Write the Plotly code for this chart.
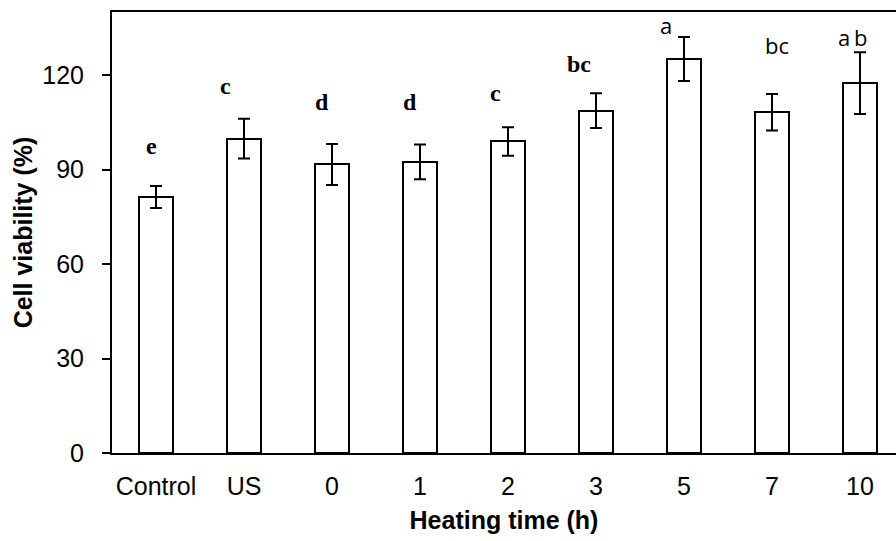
import plotly.graph_objects as go

categories = ["Control", "US", "0", "1", "2", "3", "5", "7", "10"]
viability = [81.3, 99.8, 91.6, 92.4, 98.9, 108.7, 125.1, 108.2, 117.4]
errors = [3.5, 6.3, 6.5, 5.5, 4.5, 5.5, 7.0, 5.8, 9.8]
letters = ["e", "c", "d", "d", "c", "bc", "a", "bc", "a\u2009b"]
letter_y = [97.6, 116.5, 111.5, 111.5, 114.3, 123.4, 135.8, 129.5, 132.0]
letter_dx = [-0.05, -0.21, -0.11, -0.11, -0.14, -0.19, -0.2, 0.06, -0.09]
letter_serif = [True, True, True, True, True, True, False, False, False]
y_ticks = [0, 30, 60, 90, 120]

fig = go.Figure()
fig.add_trace(go.Bar(
    x=list(range(len(categories))),
    y=viability,
    width=0.386,
    marker=dict(color="white", line=dict(color="black", width=2)),
    error_y=dict(type="data", array=errors, visible=True, color="black",
                 thickness=2, width=6),
    showlegend=False,
))

for i, (t, ly, dx, serif) in enumerate(zip(letters, letter_y, letter_dx, letter_serif)):
    if serif:
        font = dict(family="Liberation Serif", size=24, color="black", weight="bold")
    else:
        font = dict(family="Open Sans", size=22, color="black")
    fig.add_annotation(x=i + dx, y=ly, text=t, showarrow=False, font=font,
                       xanchor="center", yanchor="middle")

fig.update_layout(
    width=896, height=541,
    margin=dict(l=112, r=0, t=12, b=88),
    paper_bgcolor="white", plot_bgcolor="white",
    font=dict(family="Liberation Sans", color="black"),
    bargap=0,
)
fig.update_xaxes(
    range=[-0.5, 8.409],
    tickmode="array", tickvals=list(range(len(categories))), ticktext=categories,
    showline=True, linecolor="black", linewidth=2, mirror=True,
    ticks="", showgrid=False, zeroline=False,
    tickfont=dict(size=25, family="Liberation Sans", color="black"),
    ticklabelstandoff=10,
    title=dict(text="Heating time (h)", standoff=12,
               font=dict(size=25, family="Liberation Sans", color="black", weight="bold")),
)
fig.update_yaxes(
    range=[0, 140],
    tickmode="array", tickvals=y_ticks,
    showline=True, linecolor="black", linewidth=2, mirror=False,
    ticks="outside", ticklen=8, tickwidth=2, tickcolor="black",
    showgrid=False, zeroline=False,
    tickfont=dict(size=25, family="Liberation Sans", color="black"),
    ticklabelstandoff=13,
    title=dict(text="Cell viability (%)", standoff=3,
               font=dict(size=25, family="Liberation Sans", color="black", weight="bold")),
)

fig.write_html("out.html")
